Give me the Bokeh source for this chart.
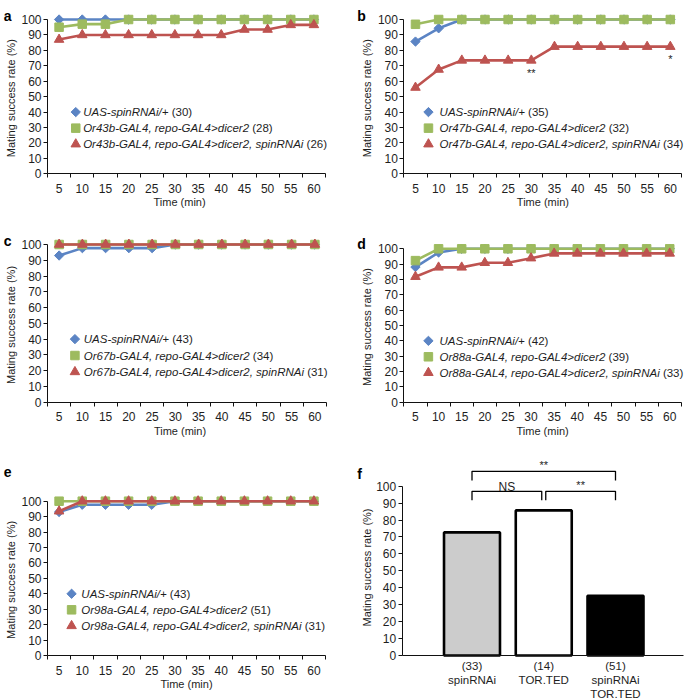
import math
from bokeh.plotting import figure
from bokeh.layouts import column, row
from bokeh.models import FixedTicker, Label, Range1d
from bokeh.embed import file_html
from bokeh.resources import INLINE

FONT = "Liberation Sans"
TXT = "#1e1e1e"
AX = "#111111"
BLUE = "#5b84c4"
GREEN = "#9dbb5f"
RED = "#be5350"

# ---------------- data ----------------
times = [5, 10, 15, 20, 25, 30, 35, 40, 45, 50, 55, 60]
y_ticks = [0, 10, 20, 30, 40, 50, 60, 70, 80, 90, 100]

a_ctrl = [100, 100, 100, 100, 100, 100, 100, 100, 100, 100, 100, 100]
a_gal = [95, 97, 97, 100, 100, 100, 100, 100, 100, 100, 100, 100]
a_rnai = [87, 90, 90, 90, 90, 90, 90, 90, 93.5, 93.5, 96.5, 96.5]
a_names = ["UAS-spinRNAi/+", "Or43b-GAL4, repo-GAL4>dicer2", "Or43b-GAL4, repo-GAL4>dicer2, spinRNAi"]
a_n = ["(30)", "(28)", "(26)"]

b_ctrl = [85.7, 94.3, 100, 100, 100, 100, 100, 100, 100, 100, 100, 100]
b_gal = [96.9, 100, 100, 100, 100, 100, 100, 100, 100, 100, 100, 100]
b_rnai = [55.9, 67.6, 73.5, 73.5, 73.5, 73.5, 82.4, 82.4, 82.4, 82.4, 82.4, 82.4]
b_names = ["UAS-spinRNAi/+", "Or47b-GAL4, repo-GAL4>dicer2", "Or47b-GAL4, repo-GAL4>dicer2, spinRNAi"]
b_n = ["(35)", "(32)", "(34)"]
b_marks = ["**", "*"]
b_mark_times = [30, 60]

c_ctrl = [93.0, 97.7, 97.7, 97.7, 97.7, 100, 100, 100, 100, 100, 100, 100]
c_gal = [100, 100, 100, 100, 100, 100, 100, 100, 100, 100, 100, 100]
c_rnai = [100, 100, 100, 100, 100, 100, 100, 100, 100, 100, 100, 100]
c_names = ["UAS-spinRNAi/+", "Or67b-GAL4, repo-GAL4>dicer2", "Or67b-GAL4, repo-GAL4>dicer2, spinRNAi"]
c_n = ["(43)", "(34)", "(31)"]

d_ctrl = [88.1, 97.6, 100, 100, 100, 100, 100, 100, 100, 100, 100, 100]
d_gal = [92.3, 100, 100, 100, 100, 100, 100, 100, 100, 100, 100, 100]
d_rnai = [81.8, 87.9, 87.9, 90.9, 90.9, 93.9, 97.0, 97.0, 97.0, 97.0, 97.0, 97.0]
d_names = ["UAS-spinRNAi/+", "Or88a-GAL4, repo-GAL4>dicer2", "Or88a-GAL4, repo-GAL4>dicer2, spinRNAi"]
d_n = ["(42)", "(39)", "(33)"]

e_ctrl = [93.0, 97.7, 97.7, 97.7, 97.7, 100, 100, 100, 100, 100, 100, 100]
e_gal = [100, 100, 100, 100, 100, 100, 100, 100, 100, 100, 100, 100]
e_rnai = [93.5, 100, 100, 100, 100, 100, 100, 100, 100, 100, 100, 100]
e_names = ["UAS-spinRNAi/+", "Or98a-GAL4, repo-GAL4>dicer2", "Or98a-GAL4, repo-GAL4>dicer2, spinRNAi"]
e_n = ["(43)", "(51)", "(31)"]

f_groups = ["spinRNAi", "TOR.TED", "spinRNAi\nTOR.TED"]
f_n = ["(33)", "(14)", "(51)"]
f_rate = [72.7, 85.7, 35.3]
f_fill = ["#cccccc", "#ffffff", "#000000"]
f_compare = [(0, 2, "**"), (0, 1, "NS"), (1, 2, "**")]
f_bracket_top = [108.8, 97.0, 97.0]

legend_rows = [40, 29.6, 19.2]

# ---------------- helpers ----------------
ARIAL = {c: 556 for c in "0123456789"}
ARIAL.update({' ': 278, '(': 333, ')': 333, '+': 584, '-': 333, '/': 278, ',': 278, '>': 584, '.': 278})
ARIAL.update(dict(A=667, B=667, C=722, D=722, E=667, F=611, G=778, H=722, I=278, J=500, K=667, L=556,
                  M=833, N=722, O=778, P=667, Q=778, R=722, S=667, T=611, U=722, V=667, W=944, X=667,
                  Y=667, Z=611))
ARIAL.update(dict(a=556, b=556, c=500, d=556, e=556, f=278, g=556, h=556, i=222, j=222, k=500, l=222,
                  m=833, n=556, o=556, p=556, q=556, r=333, s=500, t=278, u=556, v=500, w=722, x=500,
                  y=500, z=500))


def text_w(s, size):
    return sum(ARIAL.get(ch, 556) for ch in s) * size / 1000.0


class Panel:
    """A figure whose frame fills the canvas; ranges are set so that the given
    values land on the given pixel positions (measured from the top-left)."""

    def __init__(self, W, H, xa, ya):
        v0, p0, v1, p1 = xa
        self.sx = (p1 - p0) / (v1 - v0)
        self.x0 = v0 - p0 / self.sx
        w0, q0, w1, q1 = ya
        self.sy = (q0 - q1) / (w1 - w0)
        self.y1 = w1 + q1 / self.sy
        p = figure(width=W, height=H,
                   x_range=Range1d(self.x0, self.x0 + W / self.sx),
                   y_range=Range1d(self.y1 - H / self.sy, self.y1),
                   min_border_left=0, min_border_right=0, min_border_top=0, min_border_bottom=0,
                   output_backend="svg", toolbar_location=None, tools="")
        p.outline_line_color = None
        p.xgrid.visible = False
        p.ygrid.visible = False
        p.background_fill_color = "white"
        p.border_fill_color = "white"
        self.p = p

    def dx(self, gx):
        return self.x0 + gx / self.sx

    def dy(self, gy):
        return self.y1 - gy / self.sy

    def gy(self, v):
        return (self.y1 - v) * self.sy

    def style_y(self, xloc):
        ya = self.p.yaxis[0]
        ya.fixed_location = xloc
        ya.ticker = FixedTicker(ticks=y_ticks)
        ya.bounds = (0, 100)
        ya.major_tick_out = 4
        ya.major_tick_in = 0
        ya.minor_tick_out = 0
        ya.minor_tick_in = 0
        ya.major_label_standoff = 2
        ya.major_label_text_font = FONT
        ya.major_label_text_font_size = "12px"
        ya.major_label_text_color = TXT
        ya.axis_line_color = AX
        ya.major_tick_line_color = AX

    def style_x(self, lo, hi):
        xa = self.p.xaxis[0]
        xa.fixed_location = 0
        xa.bounds = (lo, hi)
        xa.axis_line_color = AX
        xa.major_label_text_font = FONT
        xa.major_label_text_color = TXT
        return xa

    def text(self, x, y, s, size="11px", style="normal", align="left", baseline="alphabetic",
             angle=0, x_offset=0, y_offset=0, color=TXT):
        self.p.add_layout(Label(x=x, y=y, text=s, text_font=FONT, text_font_size=size,
                                text_font_style=style, text_color=color, text_align=align,
                                text_baseline=baseline, angle=angle, x_offset=x_offset,
                                y_offset=y_offset))

    def letter(self, s, gx, gy):
        self.text(self.dx(gx), self.dy(gy), s, size="14px", style="bold", color="#000000")

    def ytitle(self, gx, ymid):
        self.text(self.dx(gx), ymid, "Mating success rate (%)", size="11px", align="center",
                  baseline="middle", angle=math.pi / 2)


STYLES = [(BLUE, "square", 6.6, math.pi / 4), (GREEN, "square", 8.5, 0), (RED, "triangle", 9.5, 0)]


def line_panel(W, H, xa, ya, series, names, ns, letter, letter_g, leg_mx, leg_tx, xt_x, yt_gx):
    P = Panel(W, H, xa, ya)
    p = P.p
    lo, hi = times[0] - 2.5, times[-1] + 2.5
    P.style_y(lo)
    xax = P.style_x(lo, hi)
    edges = [lo] + [t + 2.5 for t in times]
    xax.ticker = FixedTicker(ticks=times, minor_ticks=edges)
    xax.major_tick_out = 0
    xax.major_tick_in = 0
    xax.minor_tick_out = 4
    xax.minor_tick_in = 0
    xax.minor_tick_line_color = AX
    xax.major_label_standoff = 6
    xax.major_label_text_font_size = "12px"
    for vals, (color, marker, size, ang) in zip(series, STYLES):
        p.line(times, vals, line_color=color, line_width=2.6)
        p.scatter(times, vals, marker=marker, size=size, angle=ang, fill_color=color, line_color=color)
    fsz = 11.5
    for i, (nm, n) in enumerate(zip(names, ns)):
        color, marker, size, ang = STYLES[i]
        p.scatter([leg_mx], [legend_rows[i]], marker=marker, size=size, angle=ang,
                  fill_color=color, line_color=color)
        P.text(leg_tx, legend_rows[i], nm, size=f"{fsz}px", style="italic", baseline="middle")
        P.text(leg_tx, legend_rows[i], n, size=f"{fsz}px", baseline="middle",
               x_offset=text_w(nm + " ", fsz))
    P.text(xt_x, P.dy(P.gy(0) + 28.5), "Time (min)", size="11px", align="center", baseline="middle")
    P.ytitle(yt_gx, 49)
    P.letter(letter, *letter_g)
    return P


# anchors: (value, pixel, value, pixel) for x and for y (pixels from the top-left of the figure)
Pa = line_panel(342, 228, (2.5, 47, 62.5, 325), (0, 173.3, 100, 19), [a_ctrl, a_gal, a_rnai],
                a_names, a_n, "a", (3.3, 15), 8.6, 10.2, 31, 10.5)
Pb = line_panel(342, 228, (2.5, 61.4, 62.5, 339.4), (0, 173.3, 100, 19), [b_ctrl, b_gal, b_rnai],
                b_names, b_n, "b", (14.7, 15), 7.8, 10.2, 32.5, 24.5)
for mk, tm in zip(b_marks, b_mark_times):
    val = b_rnai[times.index(tm)]
    Pb.text(tm, val, mk, size="11px", align="center", y_offset=-12.5)

Pc = line_panel(342, 227, (2.5, 47, 62.5, 326), (0, 173.7, 100, 16), [c_ctrl, c_gal, c_rnai],
                c_names, c_n, "c", (3.3, 12), 8.4, 10.3, 31, 10.5)
Pd = line_panel(342, 227, (2.5, 61.4, 62.5, 338.8), (0, 173.7, 100, 20.3), [d_ctrl, d_gal, d_rnai],
                d_names, d_n, "d", (14.7, 15.3), 7.8, 10.2, 32.5, 24.5)
Pe = line_panel(342, 244, (2.5, 47, 62.5, 325), (0, 200, 100, 45.7), [e_ctrl, e_gal, e_rnai],
                e_names, e_n, "e", (3.3, 16.7), 7.7, 9.8, 32.5, 10.5)

# ---------------- panel f ----------------
f_x = list(range(1, len(f_groups) + 1))
Pf = Panel(342, 244, (f_x[0], 129.5, f_x[-1], 273), (0, 200, 100, 30.7))
pf = Pf.p
Pf.style_y(Pf.dx(59.7))
fxa = Pf.style_x(Pf.dx(59.7), Pf.dx(341.3))
pf.vbar(x=f_x, top=f_rate, width=0.78, bottom=0, fill_color=f_fill, line_color="#000000",
        line_width=2.6)
fxa.ticker = FixedTicker(ticks=f_x)
fxa.major_label_overrides = {x: f"{n}\n{g}" for x, n, g in zip(f_x, f_n, f_groups)}
fxa.major_tick_out = 0
fxa.major_tick_in = 0
fxa.minor_tick_out = 0
fxa.minor_tick_in = 0
fxa.major_label_standoff = 4
fxa.major_label_text_font_size = "11.5px"
xs, ys = [], []
for (i, j, lab), top in zip(f_compare, f_bracket_top):
    x1 = f_x[i] + (0.028 if j - i == 1 and i > 0 else 0)
    x2 = f_x[j] - (0.028 if j - i == 1 and j < len(f_x) - 1 else 0)
    drop = 5.5 if j - i > 1 else 5.3
    xs.append([x1, x1, x2, x2])
    ys.append([top - drop, top, top, top - drop])
    Pf.text((x1 + x2) / 2, top, lab, size="11px" if lab == "**" else "12px", align="center",
            y_offset=6 if lab == "**" else 4.5)
pf.multi_line(xs, ys, line_color="#000000", line_width=1.3)
Pf.ytitle(24.5, 52)
Pf.letter("f", 14.7, 18)

layout = column(row(Pa.p, Pb.p), row(Pc.p, Pd.p), row(Pe.p, Pf.p))

with open("out.html", "w") as fh_:
    fh_.write(file_html(layout, INLINE))
